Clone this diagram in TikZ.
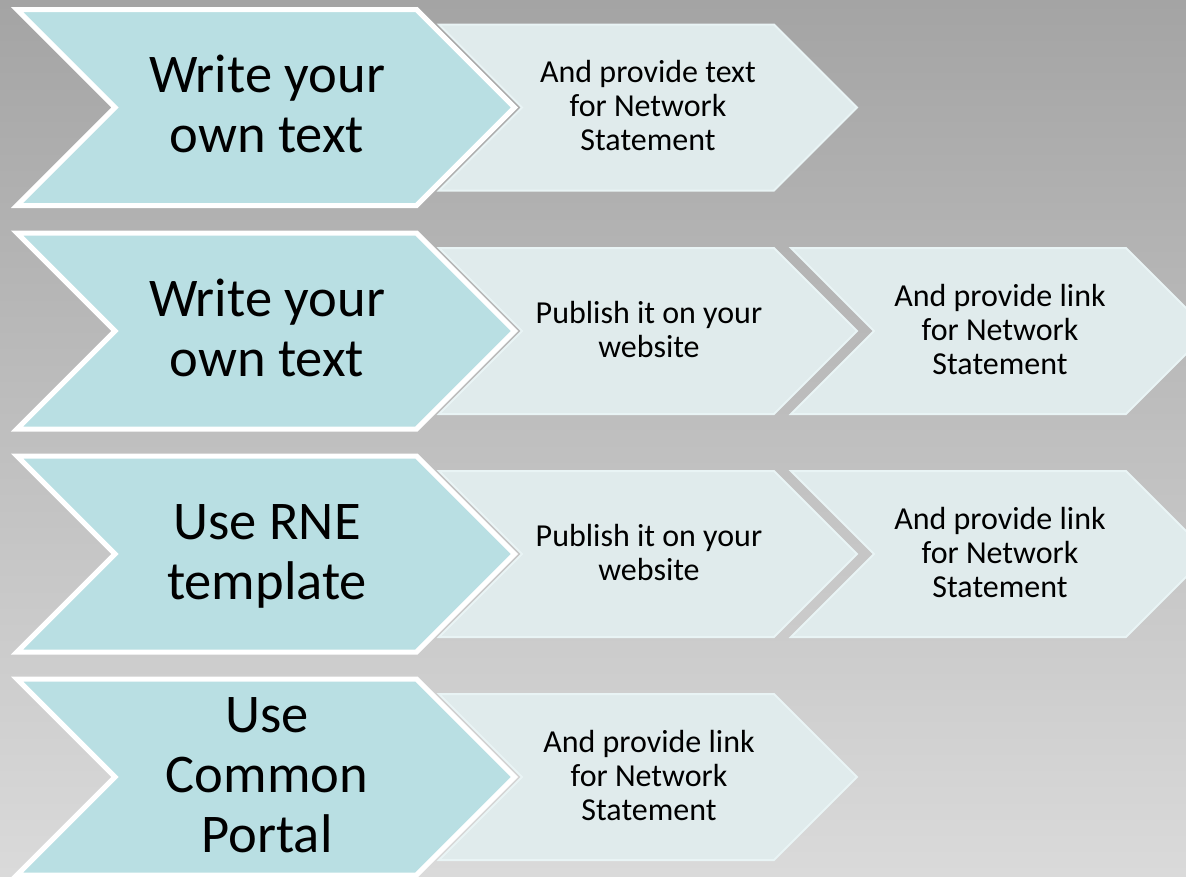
\documentclass[tikz,border=0pt]{standalone}
\usepackage{fontspec}
\setmainfont{Carlito}
\definecolor{bgtop}{HTML}{A4A4A4}
\definecolor{bgbot}{HTML}{DADADA}
\definecolor{bigfill}{HTML}{B9DFE3}
\definecolor{smallfill}{HTML}{E0EBEC}
\definecolor{smalledge}{HTML}{E9F4F5}
\newcommand\bigstr{\rule[-15pt]{0pt}{60pt}}
\newcommand\smallstr{\rule[-8pt]{0pt}{34pt}}
\newcommand\bigchev[1]{%
  \draw[bigbox] (17,#1-98) -- (416.5,#1-98) -- (514.5,#1) -- (416.5,#1+98)
    -- (17,#1+98) -- (115,#1) -- cycle;}
\newcommand\smallchev[2]{%
  \draw[smallbox] (#1,#2-83) -- (#1+335,#2-83) -- (#1+418,#2) -- (#1+335,#2+83)
    -- (#1,#2+83) -- (#1+83,#2) -- cycle;}
\tikzset{
  bigbox/.style={fill=bigfill, draw=white, line width=5pt, line join=miter},
  smallbox/.style={fill=smallfill, draw=smalledge, line width=2pt, line join=miter},
  bigtext/.style={inner sep=0pt, align=center, text=black,
    font=\fontsize{54.5}{60}\selectfont},
  smalltext/.style={inner sep=0pt, align=center, text=black,
    font=\fontsize{32}{34}\selectfont},
}
\begin{document}
\begin{tikzpicture}[x=1pt,y=-1pt]
\useasboundingbox (0,0) rectangle (1186,876);
\shade[top color=bgtop, bottom color=bgbot] (0,0) rectangle (1186,876);

% Row 1
\smallchev{439}{107.5}
\bigchev{107.5}
\node[bigtext] (r1big) at (267,107.5) {\bigstr Write your\\\bigstr own text};
\node[smalltext] (r1a) at (648,107.5) {\smallstr And provide text\\\smallstr for Network\\\smallstr Statement};

% Row 2
\smallchev{791}{331}
\smallchev{439}{331}
\bigchev{331}
\node[bigtext] (r2big) at (267,331) {\bigstr Write your\\\bigstr own text};
\node[smalltext] (r2a) at (649,331) {\smallstr Publish it on your\\\smallstr website};
\node[smalltext] (r2b) at (1000,331) {\smallstr And provide link\\\smallstr for Network\\\smallstr Statement};

% Row 3
\smallchev{791}{554}
\smallchev{439}{554}
\bigchev{554}
\node[bigtext] (r3big) at (267,554) {\bigstr Use RNE\\\bigstr template};
\node[smalltext] (r3a) at (649,554) {\smallstr Publish it on your\\\smallstr website};
\node[smalltext] (r3b) at (1000,554) {\smallstr And provide link\\\smallstr for Network\\\smallstr Statement};

% Row 4
\smallchev{439}{777}
\bigchev{777}
\node[bigtext] (r4big) at (267,777) {\bigstr Use\\\bigstr Common\\\bigstr Portal};
\node[smalltext] (r4a) at (649,777) {\smallstr And provide link\\\smallstr for Network\\\smallstr Statement};
\end{tikzpicture}
\end{document}
